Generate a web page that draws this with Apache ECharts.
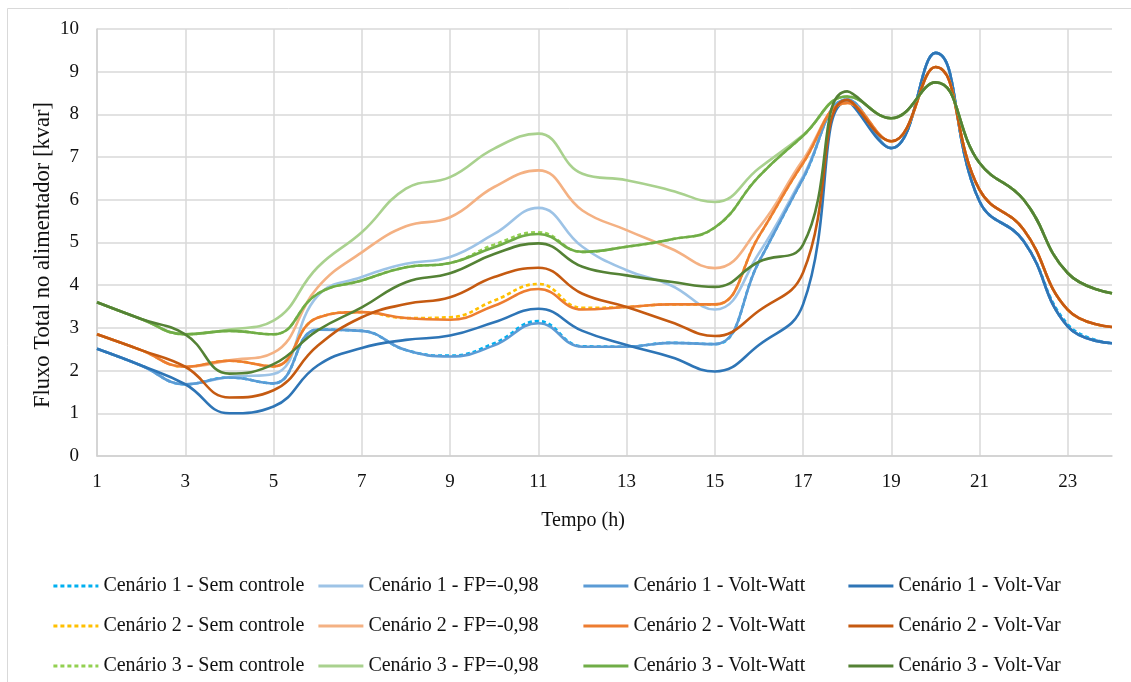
<!DOCTYPE html>
<html><head><meta charset="utf-8">
<script src="https://cdn.jsdelivr.net/npm/echarts@6/dist/echarts.min.js"></script>
<style>html,body{margin:0;padding:0;background:#fff}#c{width:1131px;height:682px}</style>
</head><body><div id="c"></div>
<script>
const hours = ['1','2','3','4','5','6','7','8','9','10','11','12','13','14','15','16','17','18','19','20','21','22','23','24'];

const c1SemControle = [2.51,2.12,1.68,1.84,1.70,2.96,2.93,2.48,2.35,2.64,3.16,2.57,2.56,2.65,2.62,4.55,6.50,8.35,7.21,9.44,5.96,5.03,3.08,2.64];
const c1FP          = [2.51,2.12,1.68,1.85,1.92,3.75,4.19,4.50,4.66,5.20,5.81,4.90,4.35,4.00,3.43,4.75,6.55,8.35,7.21,9.44,5.96,5.03,3.03,2.64];
const c1VoltWatt    = [2.51,2.12,1.68,1.84,1.70,2.96,2.93,2.48,2.33,2.59,3.11,2.56,2.56,2.65,2.62,4.55,6.50,8.35,7.21,9.44,5.96,5.03,3.03,2.64];
const c1VoltVar     = [2.51,2.12,1.68,1.00,1.16,2.12,2.53,2.72,2.82,3.13,3.45,2.93,2.60,2.32,1.98,2.60,3.55,8.30,7.21,9.44,5.96,5.03,3.03,2.64];

const c2SemControle = [2.85,2.48,2.09,2.23,2.10,3.24,3.37,3.23,3.25,3.64,4.03,3.47,3.49,3.55,3.55,5.15,6.86,8.27,7.37,9.11,6.23,5.30,3.42,3.02];
const c2FP          = [2.85,2.48,2.09,2.24,2.42,3.95,4.77,5.38,5.59,6.30,6.69,5.75,5.29,4.86,4.40,5.35,6.94,8.27,7.37,9.11,6.23,5.30,3.42,3.02];
const c2VoltWatt    = [2.85,2.48,2.09,2.23,2.10,3.24,3.37,3.23,3.19,3.52,3.91,3.43,3.49,3.55,3.55,5.15,6.86,8.27,7.37,9.11,6.23,5.30,3.42,3.02];
const c2VoltVar     = [2.85,2.48,2.09,1.37,1.54,2.58,3.25,3.56,3.72,4.19,4.41,3.80,3.49,3.14,2.81,3.40,4.30,8.34,7.37,9.11,6.23,5.30,3.42,3.02];

const c3SemControle = [3.60,3.21,2.85,2.93,2.85,3.80,4.11,4.42,4.52,4.95,5.24,4.78,4.90,5.07,5.35,6.55,7.50,8.42,7.91,8.75,6.86,6.00,4.28,3.81];
const c3FP          = [3.60,3.21,2.85,2.96,3.17,4.42,5.24,6.26,6.53,7.20,7.55,6.61,6.46,6.22,5.95,6.74,7.52,8.42,7.91,8.75,6.86,6.00,4.28,3.81];
const c3VoltWatt    = [3.60,3.21,2.85,2.93,2.85,3.80,4.11,4.42,4.52,4.89,5.20,4.78,4.90,5.07,5.35,6.55,7.50,8.42,7.91,8.75,6.86,6.00,4.28,3.81];
const c3VoltVar     = [3.60,3.21,2.85,1.93,2.15,2.94,3.48,4.07,4.28,4.73,4.98,4.43,4.23,4.08,3.96,4.55,4.95,8.54,7.91,8.75,6.86,6.00,4.28,3.81];

const seriesNames = [
  'Cenário 1 - Sem controle','Cenário 1 - FP=-0,98','Cenário 1 - Volt-Watt','Cenário 1 - Volt-Var',
  'Cenário 2 - Sem controle','Cenário 2 - FP=-0,98','Cenário 2 - Volt-Watt','Cenário 2 - Volt-Var',
  'Cenário 3 - Sem controle','Cenário 3 - FP=-0,98','Cenário 3 - Volt-Watt','Cenário 3 - Volt-Var'
];
const seriesData = [c1SemControle,c1FP,c1VoltWatt,c1VoltVar,c2SemControle,c2FP,c2VoltWatt,c2VoltVar,c3SemControle,c3FP,c3VoltWatt,c3VoltVar];
const seriesColors = ['#00B0F0','#9DC3E6','#5B9BD5','#2E75B6','#FFC000','#F4B183','#ED7D31','#C55A11','#92D050','#A9D18E','#70AD47','#548235'];
const seriesDash = [true,false,false,false,true,false,false,false,true,false,false,false];

const FONT = '"Liberation Serif","Times New Roman",serif';

const series = seriesNames.map((n,i)=>({
  name:n, type:'line', data:seriesData[i], smooth:0.45, symbol:'none',
  lineStyle:{color:seriesColors[i], width:2.6, type: seriesDash[i] ? [4,3] : 'solid'},
  itemStyle:{color:seriesColors[i]},
  emphasis:{disabled:true}
}));

const legendCols = [52,317,582,847];
const legends = legendCols.map((x,col)=>({
  orient:'vertical', left:x, top:575, itemGap:18, itemWidth:45, itemHeight:14, padding:0,
  selectedMode:false,
  itemStyle:{opacity:0},
  lineStyle:{width:2.8},
  data:[seriesNames[col], seriesNames[col+4], seriesNames[col+8]],
  textStyle:{fontFamily:FONT, fontSize:20, lineHeight:22, color:'#111'}
}));

const chart = echarts.init(document.getElementById('c'), null, {renderer:'canvas'});
chart.setOption({
  animation:false,
  backgroundColor:'#fff',
  grid:{left:97, right:19, top:29, bottom:226, containLabel:false},
  xAxis:{
    type:'category', data:hours, boundaryGap:false,
    axisLine:{lineStyle:{color:'#d0d0d0', width:1.5}},
    axisTick:{show:false},
    axisLabel:{interval:1, margin:17, fontFamily:FONT, fontSize:19, color:'#111'},
    splitLine:{show:true, interval:1, lineStyle:{color:'#d9d9d9', width:1.5}}
  },
  yAxis:{
    type:'value', min:0, max:10, interval:1,
    axisLine:{show:true, lineStyle:{color:'#d0d0d0', width:1.5}},
    axisTick:{show:false},
    axisLabel:{margin:18, fontFamily:FONT, fontSize:19, color:'#111'},
    splitLine:{lineStyle:{color:'#d9d9d9', width:1.5}}
  },
  legend:legends,
  graphic:[
    {type:'rect', shape:{x:7.5, y:8.5, width:1140, height:690}, style:{fill:null, stroke:'#d9d9d9', lineWidth:1}, silent:true, z:-10},
    {type:'text', x:583, y:521, style:{text:'Tempo (h)', fontFamily:FONT, fontSize:20, fill:'#111', textAlign:'center', textVerticalAlign:'middle'}},
    {type:'text', rotation:Math.PI/2, x:43, y:255, style:{text:'Fluxo Total no alimentador [kvar]', fontFamily:FONT, fontSize:22.5, fill:'#111', textAlign:'center', textVerticalAlign:'middle'}}
  ],
  series:series
});
</script></body></html>
